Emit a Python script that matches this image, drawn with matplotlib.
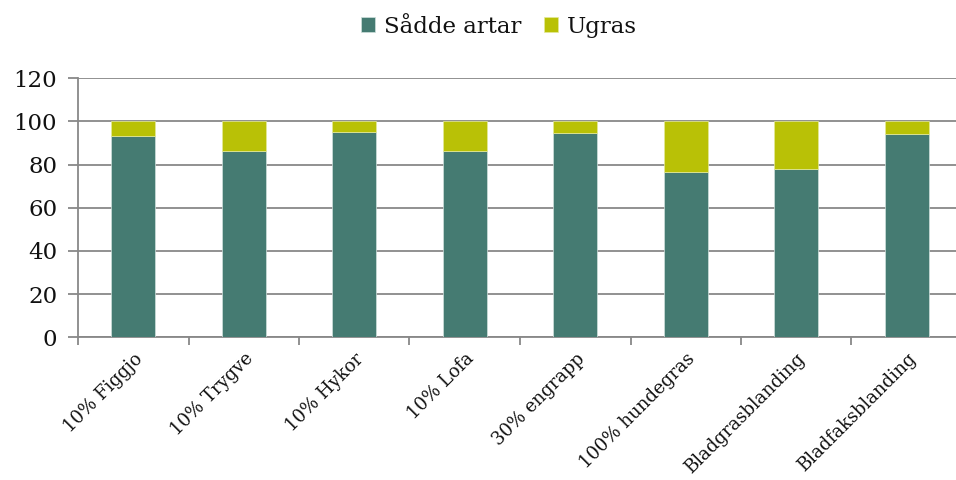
import matplotlib
matplotlib.use("Agg")
import matplotlib.pyplot as plt
import numpy as np

categories = ["10% Figgjo", "10% Trygve", "10% Hykor", "10% Lofa",
              "30% engrapp", "100% hundegras", "Bladgrasblanding", "Bladfaksblanding"]
saadde = [93.3, 86.5, 95.3, 86.5, 94.8, 76.5, 78.1, 94.3]
ugras = [6.7, 13.5, 4.7, 13.5, 5.2, 23.5, 21.9, 5.7]
yticks = [0, 20, 40, 60, 80, 100, 120]

green = "#457B72"
yellow = "#B9C106"
grid = "#888888"

plt.rcParams['font.family'] = ['DejaVu Serif']

fig = plt.figure(figsize=(9.56, 4.8), dpi=100)
ax = fig.add_axes([78/956, 0.2973, 884/956, 0.5396])

x = np.arange(len(categories))
ax.bar(x, saadde, width=0.4, color=green, edgecolor="#cfe0dc", linewidth=0.5, label="Sådde artar", zorder=3)
ax.bar(x, ugras, width=0.4, bottom=saadde, color=yellow, edgecolor="#e5ea9a", linewidth=0.5, label="Ugras", zorder=3)

ax.set_xlim(-0.5, len(categories) - 0.5)
ax.set_ylim(0, 120)
ax.set_yticks(yticks)
ax.set_yticklabels([str(v) for v in yticks], fontsize=16.5, color="#111111")
ax.yaxis.grid(True, color=grid, linewidth=1.3, zorder=0)
ax.set_axisbelow(True)

ax.set_xticks(np.arange(len(categories) + 1) - 0.5, minor=False)
ax.set_xticklabels([])
ax.set_xticks(x, minor=True)
ax.set_xticklabels(categories, minor=True, rotation=45, ha='right', rotation_mode='anchor',
                   fontsize=13, color="#111111")
ax.tick_params(axis='x', which='minor', length=0, pad=9)
ax.tick_params(axis='x', which='major', length=6, width=1.3, color=grid)
ax.tick_params(axis='y', length=7, width=1.3, color=grid, pad=8)

for s in ['top', 'right']:
    ax.spines[s].set_visible(False)
for s in ['left', 'bottom']:
    ax.spines[s].set_color(grid)
    ax.spines[s].set_linewidth(1.3)

leg = fig.legend(loc='upper center', bbox_to_anchor=(0.522, 1.01), ncol=2, frameon=False,
                 fontsize=16.5, handlelength=0.6, handleheight=0.6, handletextpad=0.4, columnspacing=1.0)
for t in leg.get_texts():
    t.set_color("#111111")

fig.savefig("out.png", dpi=100)
